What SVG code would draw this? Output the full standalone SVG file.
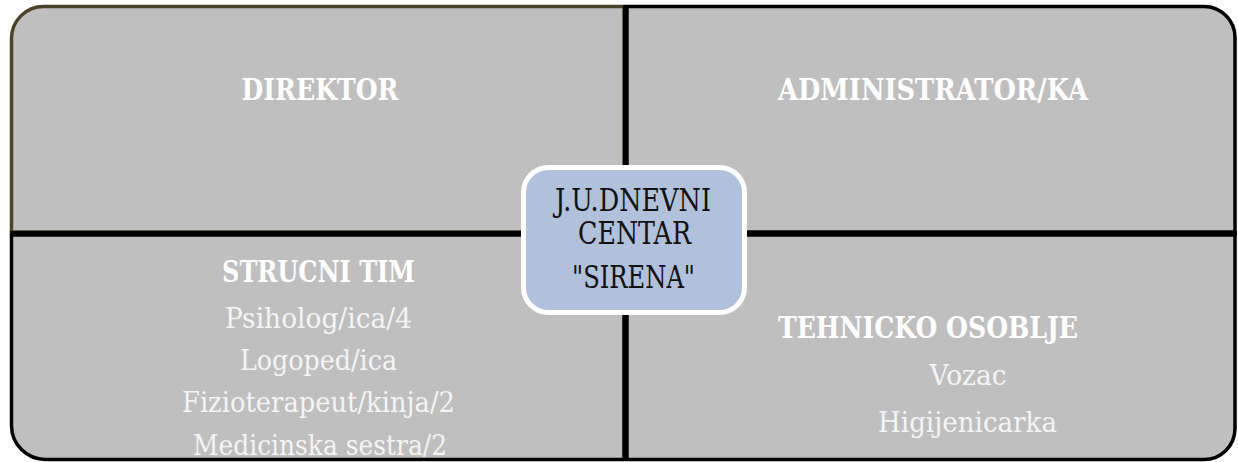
<svg xmlns="http://www.w3.org/2000/svg" width="1238" height="462" viewBox="0 0 1238 462">
<style>
.q{fill:#bfbfbf;stroke:#000;stroke-width:3.5}
.h{font-family:"DejaVu Serif",serif;font-weight:bold;font-size:30px;fill:#fff;text-anchor:middle}
.t{font-family:"DejaVu Serif",serif;font-size:27px;fill:#f4f4f4;text-anchor:middle}
.c{font-family:"DejaVu Serif",serif;font-size:31px;fill:#111;text-anchor:middle}
</style>
<rect width="1238" height="462" fill="#fff"/>
<g id="direktor">
<path class="q" style="stroke:#4a4328" d="M11.5 232V38.5A32 32 0 0 1 43.5 6.5H624V232Z"/>
<text class="h" x="320" y="100" textLength="157" lengthAdjust="spacingAndGlyphs">DIREKTOR</text>
</g>
<g id="administrator">
<path class="q" d="M627 6.5H1204A31 31 0 0 1 1235 37.5V232H627Z"/>
<text class="h" x="933" y="100" textLength="310" lengthAdjust="spacingAndGlyphs">ADMINISTRATOR/KA</text>
</g>
<g id="strucni-tim">
<path class="q" d="M11.5 235H624V459.5H45.5A34 34 0 0 1 11.5 425.5Z"/>
<text class="h" x="318.5" y="282" textLength="193" lengthAdjust="spacingAndGlyphs">STRUCNI TIM</text>
<text class="t" x="318.5" y="327.5" textLength="187" lengthAdjust="spacingAndGlyphs">Psiholog/ica/4</text>
<text class="t" x="318.5" y="370" textLength="157" lengthAdjust="spacingAndGlyphs">Logoped/ica</text>
<text class="t" x="318.5" y="412" textLength="273" lengthAdjust="spacingAndGlyphs">Fizioterapeut/kinja/2</text>
<text class="t" x="320" y="455" textLength="254" lengthAdjust="spacingAndGlyphs">Medicinska sestra/2</text>
</g>
<g id="tehnicko-osoblje">
<path class="q" d="M627 235H1235V428.5A31 31 0 0 1 1204 459.5H627Z"/>
<text class="h" x="928" y="338" textLength="300" lengthAdjust="spacingAndGlyphs">TEHNICKO OSOBLJE</text>
<text class="t" x="968" y="385" textLength="77" lengthAdjust="spacingAndGlyphs">Vozac</text>
<text class="t" x="967.5" y="432" textLength="179" lengthAdjust="spacingAndGlyphs">Higijenicarka</text>
</g>
<g id="dividers">
<line x1="625.5" y1="5" x2="625.5" y2="461" stroke="#000" stroke-width="5"/>
<line x1="10" y1="233.5" x2="1237" y2="233.5" stroke="#000" stroke-width="5"/>
</g>
<g id="center">
<rect x="523.5" y="167.5" width="221" height="145" rx="25" fill="#b1c1dc" stroke="#fff" stroke-width="5"/>
<text class="c" x="633" y="211" textLength="156" lengthAdjust="spacingAndGlyphs">J.U.DNEVNI</text>
<text class="c" x="634.5" y="244" textLength="113" lengthAdjust="spacingAndGlyphs">CENTAR</text>
<text class="c" x="633.5" y="288" textLength="123" lengthAdjust="spacingAndGlyphs">"SIRENA"</text>
</g>
</svg>
